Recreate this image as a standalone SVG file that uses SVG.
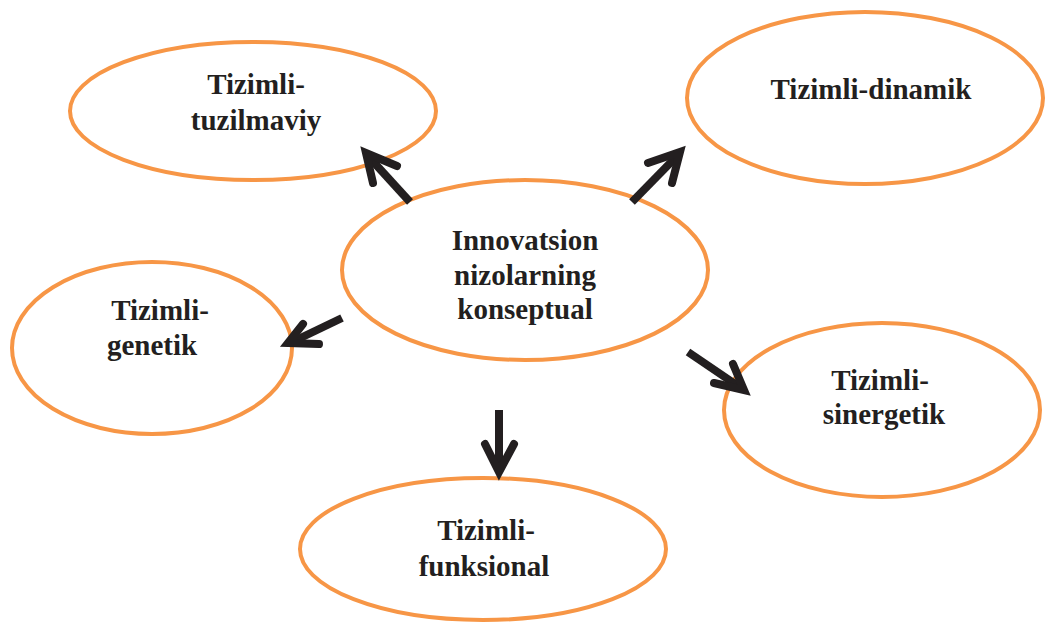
<svg xmlns="http://www.w3.org/2000/svg" width="1046" height="625" viewBox="0 0 1046 625">
<style>
.n{fill:#fff;stroke:#f79646;stroke-width:4}
.t{font-family:"Liberation Serif","Times New Roman",serif;font-weight:bold;font-size:29px;fill:#231f20;text-anchor:middle}
.a{fill:none;stroke:#231f20;stroke-width:8;stroke-linejoin:round}
.h{fill:none;stroke:#231f20;stroke-width:8;stroke-linecap:round;stroke-linejoin:miter}
</style>
<rect width="1046" height="625" fill="#fff"/>
<g id="n-tuzilmaviy"><ellipse class="n" cx="253" cy="111" rx="183" ry="69"/><text class="t" x="256" y="94">Tizimli-</text><text class="t" x="256" y="130">tuzilmaviy</text></g>
<g id="n-dinamik"><ellipse class="n" cx="865" cy="98" rx="178" ry="86"/><text class="t" x="871" y="99">Tizimli-dinamik</text></g>
<g id="n-genetik"><ellipse class="n" cx="152" cy="348" rx="140" ry="86"/><text class="t" x="160" y="320">Tizimli-</text><text class="t" x="152" y="355">genetik</text></g>
<g id="n-sinergetik"><ellipse class="n" cx="882" cy="410" rx="158" ry="87"/><text class="t" x="880" y="390">Tizimli-</text><text class="t" x="884" y="424">sinergetik</text></g>
<g id="n-funksional"><ellipse class="n" cx="483" cy="549" rx="183" ry="71"/><text class="t" x="486" y="540">Tizimli-</text><text class="t" x="484" y="576">funksional</text></g>
<g id="n-center"><ellipse class="n" cx="525" cy="270" rx="183" ry="90"/><text class="t" x="525" y="250">Innovatsion</text><text class="t" x="525" y="285">nizolarning</text><text class="t" x="525" y="319">konseptual</text></g>
<g id="connectors">
<line class="a" x1="410" y1="202" x2="368" y2="156"/><polyline class="h" points="397,166 366,153 373,183"/>
<line class="a" x1="632" y1="202" x2="678" y2="155"/><polyline class="h" points="648,163 680,152 672,183"/>
<line class="a" x1="342" y1="318" x2="292" y2="342"/><polyline class="h" points="303,324 288,343 319,344"/>
<line class="a" x1="688" y1="352" x2="741" y2="388"/><polyline class="h" points="733,364 744,390 714,383"/>
<line class="a" x1="499" y1="410" x2="499" y2="470"/><polyline class="h" points="485,444 499,472 514,444"/>
</g>
</svg>
